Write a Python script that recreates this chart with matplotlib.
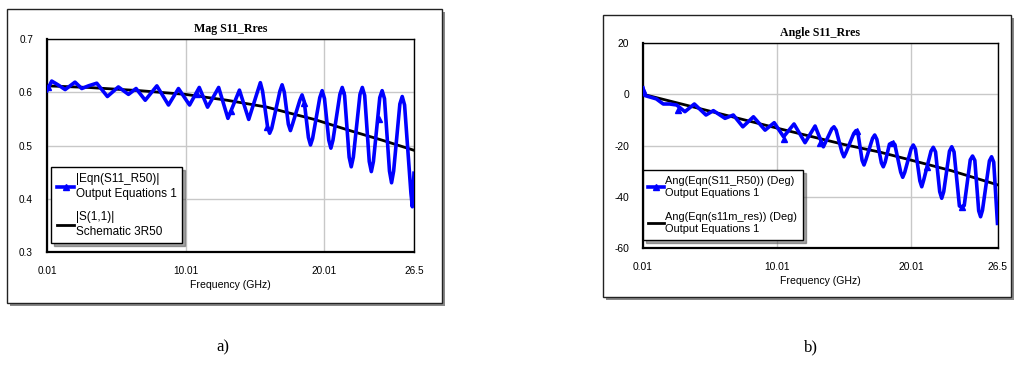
import matplotlib
matplotlib.use("Agg")
import matplotlib.pyplot as plt
from matplotlib.patches import Rectangle
from matplotlib.lines import Line2D

plt.rcParams["axes.unicode_minus"] = False

# ---- data ----
# a) magnitude of S11
mag_f = [0.01, 0.35, 0.8, 1.32, 2.03, 2.52, 3.0, 3.6, 4.37, 5.16, 5.89, 6.44, 7.1, 7.94,
         8.78, 9.5, 10.3, 11.0, 11.6, 12.4, 13.07, 13.9, 14.57,
         15.25, 15.41, 15.57, 15.93, 16.08, 16.23, 16.82, 16.98, 17.14, 17.43, 17.58, 17.73,
         18.26, 18.42, 18.58, 18.88, 19.03, 19.18, 19.7, 19.87, 20.04, 20.35, 20.5, 20.65,
         21.15, 21.32, 21.49, 21.82, 21.97, 22.12, 22.6, 22.77, 22.94, 23.27, 23.42, 23.57,
         24.03, 24.2, 24.37, 24.73, 24.88, 25.03, 25.48, 25.65, 25.82, 26.28, 26.38, 26.5]
mag_eqn = [0.603, 0.621, 0.614, 0.605, 0.619, 0.607, 0.612, 0.617, 0.592, 0.61, 0.596,
           0.607, 0.585, 0.612, 0.576, 0.607, 0.576, 0.609, 0.572, 0.609, 0.551, 0.604,
           0.549,
           0.605, 0.618, 0.602, 0.535, 0.523, 0.532, 0.602, 0.614, 0.6, 0.54, 0.528, 0.54,
           0.585, 0.595, 0.582, 0.515, 0.501, 0.513, 0.59, 0.603, 0.588, 0.51, 0.495, 0.51,
           0.596, 0.609, 0.594, 0.478, 0.46, 0.478, 0.596, 0.609, 0.594, 0.47, 0.451, 0.47,
           0.59, 0.603, 0.588, 0.452, 0.43, 0.452, 0.578, 0.592, 0.576, 0.41, 0.385, 0.448]
mag_mark_f = [0.1, 10.83, 13.3, 15.9, 18.55, 21.32, 23.95]
mag_mark_v = [0.61, 0.597, 0.565, 0.535, 0.58, 0.605, 0.55]
mag_sch_f = [0.01, 3, 6.7, 10, 13, 15.9, 17.2, 19.3, 22, 24.2, 26.5]
mag_sch = [0.612, 0.609, 0.603, 0.596, 0.585, 0.572, 0.563, 0.549, 0.527, 0.51, 0.491]

# b) angle of S11 (deg)
ang_f = [0.01, 0.15, 1.0, 1.52, 2.0, 2.52, 3.14, 3.84, 4.71, 5.26, 6.13, 6.75, 7.46, 8.25,
         9.12, 9.8, 10.5, 11.28, 12.1, 12.85, 13.47,
         14.1, 14.26, 14.42, 14.85, 15.0, 15.15, 15.74, 15.9, 16.06, 16.36, 16.5, 16.64,
         17.14, 17.3, 17.46, 17.8, 17.94, 18.08, 18.4, 18.6, 18.8, 19.24, 19.39, 19.54,
         20.02, 20.18, 20.34, 20.67, 20.81, 20.95, 21.5, 21.67, 21.84, 22.15, 22.3, 22.45,
         22.88, 23.05, 23.22, 23.62, 23.8, 23.98, 24.43, 24.6, 24.77, 25.06, 25.2, 25.34,
         25.86, 26.02, 26.18, 26.46]
ang_eqn = [2.5, -0.5, -1.8, -3.8, -3.8, -4.2, -6.8, -3.8, -8.1, -6.4, -9.4, -8.1, -12.7,
           -8.8, -14.0, -11.1, -16.6, -11.6, -18.9, -12.4, -20.5,
           -13.5, -12.7, -14.0, -22.5, -24.4, -22.8, -15.3, -14.2, -15.6, -25.8, -27.6, -25.6,
           -17.2, -15.9, -17.6, -26.8, -28.3, -26.5, -19.5, -18.9, -19.6, -30.4, -32.4, -30.5,
           -21.2, -19.8, -21.4, -33.8, -36.1, -33.6, -22.2, -20.7, -22.5, -38.0, -40.6, -38.0,
           -22.2, -20.5, -22.5, -43.6, -44.1, -43.4, -25.6, -24.1, -25.8, -45.5, -47.8, -45.3,
           -26.0, -24.4, -26.5, -50.4]
ang_mark_f = [0.03, 2.6, 10.55, 13.2, 15.96, 18.7, 21.17, 23.8]
ang_mark_v = [1.7, -6.1, -17.4, -19.0, -14.2, -19.1, -28.3, -44.1]
ang_sch_f = [0.01, 5, 10, 15, 17.7, 20, 23, 26.5]
ang_sch = [0.0, -6.6, -13.2, -19.6, -22.6, -25.7, -29.8, -35.4]

xticks = [0.01, 10.01, 20.01, 26.5]
xtick_labels = ["0.01", "10.01", "20.01", "26.5"]
BLUE = "#0000ff"
SANS = "Liberation Sans"
SERIF = "Liberation Serif"

W, H = 1014, 379
fig = plt.figure(figsize=(W / 100, H / 100), dpi=100)


def px_rect(x0, y0, x1, y1):
    # pixel box (top-left origin) -> figure fraction
    return [x0 / W, 1 - y1 / H, (x1 - x0) / W, (y1 - y0) / H]


def frame(x0, y0, x1, y1):
    l, b, w, h = px_rect(x0, y0, x1, y1)
    fig.patches.append(Rectangle((l + 3 / W, b - 3 / H), w, h, transform=fig.transFigure,
                                 facecolor="#888888", edgecolor="none", zorder=-3))
    fig.patches.append(Rectangle((l, b), w, h, transform=fig.transFigure,
                                 facecolor="white", edgecolor="#222222", lw=1, zorder=-2))


def setup(ax, title, ylim, yticks, fs):
    ax.set_xlim(0.01, 26.5)
    ax.set_ylim(*ylim)
    ax.set_xticks(xticks)
    ax.set_xticklabels(xtick_labels)
    ax.set_yticks(yticks)
    ax.tick_params(length=0, labelsize=fs, pad=10)
    for lab in ax.get_xticklabels() + ax.get_yticklabels():
        lab.set_family(SANS)
    ax.grid(True, color="#c8c8c8", lw=1)
    ax.set_axisbelow(True)
    for s in ["left", "bottom"]:
        ax.spines[s].set_linewidth(1.6)
    for s in ["right", "top"]:
        ax.spines[s].set_linewidth(1.0)
    ax.set_title(title, family=SERIF, weight="bold", fontsize=8.6, pad=5)
    ax.set_xlabel("Frequency (GHz)", family=SANS, fontsize=7.6, labelpad=3)


def curves(ax, sch_f, sch, f, eqn, mf, mv):
    ax.plot(sch_f, sch, color="black", lw=2.0, zorder=3)
    ax.plot(f, eqn, color=BLUE, lw=2.6, zorder=4, solid_joinstyle="round")
    ax.plot(mf, mv, ls="none", marker="^", ms=4.5, color=BLUE, zorder=4)
    return [Line2D([], [], color=BLUE, lw=2.6, marker="^", ms=5),
            Line2D([], [], color="black", lw=2.0)]


def legend(ax, handles, labels, x0, fs, spacing):
    leg = ax.legend(handles, labels, loc="lower left", bbox_to_anchor=(x0, 0.04),
                    borderaxespad=0, prop={"family": SANS, "size": fs}, fancybox=False,
                    shadow=True, framealpha=1, edgecolor="black", handlelength=1.4,
                    handletextpad=0.15, labelspacing=spacing, borderpad=0.5)
    leg.get_frame().set_linewidth(1.0)
    for t in leg.get_texts():
        t.set_linespacing(1.25)
    return leg


# ---- panel a ----
frame(7, 9, 442, 303)
ax1 = fig.add_axes(px_rect(47, 39, 414, 252))
ax1.set_facecolor("none")
setup(ax1, "Mag S11_Rres", (0.3, 0.7), [0.3, 0.4, 0.5, 0.6, 0.7], 7.2)
ax1.set_yticklabels(["0.3", "0.4", "0.5", "0.6", "0.7"])
for lab in ax1.get_yticklabels():
    lab.set_family(SANS)
h1 = curves(ax1, mag_sch_f, mag_sch, mag_f, mag_eqn, mag_mark_f, mag_mark_v)
legend(ax1, h1, ["|Eqn(S11_R50)|\nOutput Equations 1", "|S(1,1)|\nSchematic 3R50"],
       0.012, 8.5, 1.0)

# ---- panel b ----
frame(603, 15, 1011, 297)
ax2 = fig.add_axes(px_rect(643, 43, 998, 248))
ax2.set_facecolor("none")
setup(ax2, "Angle S11_Rres", (-60, 20), [-60, -40, -20, 0, 20], 7.4)
h2 = curves(ax2, ang_sch_f, ang_sch, ang_f, ang_eqn, ang_mark_f, ang_mark_v)
legend(ax2, h2, ["Ang(Eqn(S11_R50)) (Deg)\nOutput Equations 1",
                 "Ang(Eqn(s11m_res)) (Deg)\nOutput Equations 1"], 0.0, 7.9, 1.35)

# captions
fig.text(223 / W, 1 - 347 / H, "a)", family=SERIF, fontsize=12, ha="center", va="center")
fig.text(811 / W, 1 - 347 / H, "b)", family=SERIF, fontsize=12, ha="center", va="center")

fig.savefig("out.png", dpi=100)
